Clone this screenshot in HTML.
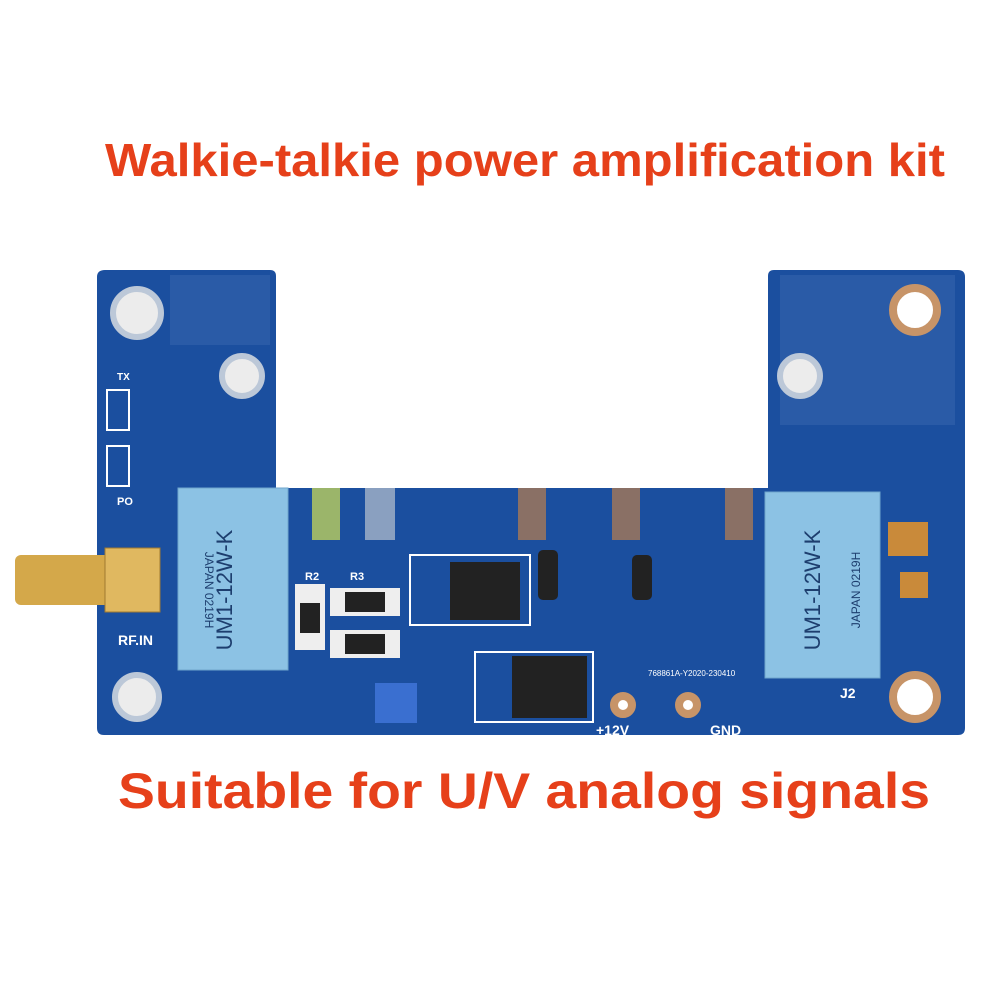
<!DOCTYPE html>
<html><head><meta charset="utf-8"><style>
body{margin:0;background:#fff;width:1000px;height:1000px;overflow:hidden;font-family:"Liberation Sans",sans-serif}
</style></head><body>
<svg width="1000" height="1000" style="position:absolute;left:0;top:0">
<text x="105" y="176" font-size="46" font-weight="bold" fill="#e6401a" textLength="840" lengthAdjust="spacingAndGlyphs" font-family="Liberation Sans, sans-serif">Walkie-talkie power amplification kit</text>
<text x="118" y="808" font-size="50" font-weight="bold" fill="#e6401a" textLength="812" lengthAdjust="spacingAndGlyphs" font-family="Liberation Sans, sans-serif">Suitable for U/V analog signals</text>
<path d="M105 270 H270 Q276 270 276 276 V488 H768 V276 Q768 270 774 270 H958 Q965 270 965 277 V728 Q965 735 958 735 H104 Q97 735 97 728 V277 Q97 270 105 270Z" fill="#1b4f9f"/>
<g fill="#3a68b0" opacity="0.5">
<rect x="170" y="275" width="100" height="70"/><rect x="780" y="275" width="175" height="150"/>
</g>
<g fill="#ececec" stroke="#bcc8d8" stroke-width="6">
<circle cx="137" cy="313" r="24"/><circle cx="242" cy="376" r="20"/><circle cx="137" cy="697" r="22"/><circle cx="800" cy="376" r="20"/>
</g>
<g fill="#fff" stroke="#c79468" stroke-width="8">
<circle cx="915" cy="310" r="22"/><circle cx="915" cy="697" r="22"/><circle cx="623" cy="705" r="9"/><circle cx="688" cy="705" r="9"/>
</g>
<rect x="178" y="488" width="110" height="182" fill="#8cc2e4" stroke="#6fa6cc"/>
<rect x="765" y="492" width="115" height="186" fill="#8cc2e4" stroke="#6fa6cc"/>
<text x="232" y="590" font-size="22" fill="#1d3e6e" transform="rotate(-90 232 590)" text-anchor="middle">UM1-12W-K</text>
<text x="820" y="590" font-size="22" fill="#1d3e6e" transform="rotate(-90 820 590)" text-anchor="middle">UM1-12W-K</text>
<text x="205" y="590" font-size="12" fill="#1d3e6e" transform="rotate(90 205 590)" text-anchor="middle">JAPAN 0219H</text>
<text x="860" y="590" font-size="12" fill="#1d3e6e" transform="rotate(-90 860 590)" text-anchor="middle">JAPAN 0219H</text>
<rect x="15" y="555" width="95" height="50" rx="6" fill="#d4a84a"/>
<rect x="105" y="548" width="55" height="64" fill="#e0b860" stroke="#a07a30"/>
<rect x="312" y="488" width="28" height="52" fill="#9bb56a"/>
<rect x="365" y="488" width="30" height="52" fill="#8aa0c0"/>
<rect x="518" y="488" width="28" height="52" fill="#8a7065"/>
<rect x="612" y="488" width="28" height="52" fill="#8a7065"/>
<rect x="725" y="488" width="28" height="52" fill="#8a7065"/>
<rect x="888" y="522" width="40" height="34" fill="#c98a3a"/><rect x="900" y="572" width="28" height="26" fill="#c98a3a"/>
<rect x="410" y="555" width="120" height="70" fill="none" stroke="#fff" stroke-width="2"/>
<rect x="450" y="562" width="70" height="58" fill="#222"/>
<rect x="475" y="652" width="118" height="70" fill="none" stroke="#fff" stroke-width="2"/>
<rect x="512" y="656" width="75" height="62" fill="#222"/>
<rect x="295" y="584" width="30" height="66" fill="#eee"/><rect x="300" y="603" width="20" height="30" fill="#222"/>
<rect x="330" y="588" width="70" height="28" fill="#eee"/><rect x="345" y="592" width="40" height="20" fill="#222"/>
<rect x="330" y="630" width="70" height="28" fill="#eee"/><rect x="345" y="634" width="40" height="20" fill="#222"/>
<rect x="538" y="550" width="20" height="50" rx="5" fill="#222"/>
<rect x="632" y="555" width="20" height="45" rx="5" fill="#222"/>
<rect x="375" y="683" width="42" height="40" fill="#3a6fd0"/>
<rect x="107" y="390" width="22" height="40" fill="none" stroke="#fff" stroke-width="2"/>
<rect x="107" y="446" width="22" height="40" fill="none" stroke="#fff" stroke-width="2"/>
<g font-size="14" fill="#fff" font-weight="bold">
<text x="118" y="645">RF.IN</text><text x="596" y="735">+12V</text><text x="710" y="735">GND</text><text x="840" y="698">J2</text>
<text x="117" y="380" font-size="10">TX</text><text x="117" y="505" font-size="11">PO</text>
<text x="305" y="580" font-size="11">R2</text><text x="350" y="580" font-size="11">R3</text>
</g>
<text x="648" y="676" font-size="8" fill="#fff">768861A-Y2020-230410</text>
</svg>
</body></html>
